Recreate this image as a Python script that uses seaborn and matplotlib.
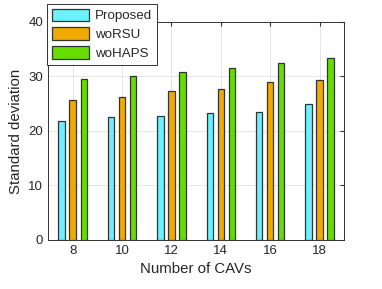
import numpy as np
import pandas as pd
import matplotlib
matplotlib.use("Agg")
import matplotlib.pyplot as plt
import seaborn as sns

# values
num_cavs = [8, 10, 12, 14, 16, 18]
proposed = [21.9, 22.5, 22.8, 23.3, 23.5, 25.0]
wo_rsu = [25.7, 26.3, 27.4, 27.7, 28.9, 29.4]
wo_haps = [29.6, 30.1, 30.9, 31.6, 32.5, 33.4]
methods = ["Proposed", "woRSU", "woHAPS"]
colors = ["#6af0ff", "#f0aa00", "#66dd00"]

df = pd.DataFrame({
    "cavs": num_cavs * 3,
    "method": np.repeat(methods, len(num_cavs)),
    "std": proposed + wo_rsu + wo_haps,
})

sns.set_style("white")
plt.rcParams["font.family"] = ["Liberation Sans", "DejaVu Sans"]

fig = plt.figure(figsize=(3.82, 2.89), dpi=100)
ax = fig.add_axes([0.126, 0.170, 0.775, 0.754])

sns.barplot(data=df, x="cavs", y="std", hue="method", palette=colors,
            saturation=1, width=0.67, gap=0.4, edgecolor="#333333",
            linewidth=0.9, errorbar=None, ax=ax)

ax.set_xlim(-0.5, 5.5)
ax.set_ylim(0, 40)
ax.set_yticks([0, 10, 20, 30, 40])
ax.set_xlabel("Number of CAVs", fontsize=10.8, color="#262626")
ax.set_ylabel("Standard deviation", fontsize=10.8, color="#262626")
ax.tick_params(direction="in", labelsize=9.5, top=True, right=True,
               length=3, color="#333333", labelcolor="#262626")
ax.grid(True, color="#e0e0e0", linewidth=0.6)
ax.set_axisbelow(True)
for s in ax.spines.values():
    s.set_color("#333333")
    s.set_linewidth(0.7)

leg = ax.legend(loc="upper left", bbox_to_anchor=(-0.003, 1.083),
                borderaxespad=0, fontsize=9.6, handlelength=2.8,
                handleheight=1.05, borderpad=0.35, labelspacing=0.38,
                handletextpad=0.45, fancybox=False, framealpha=1,
                edgecolor="#333333")
leg.get_frame().set_linewidth(0.7)

plt.savefig("out.png", dpi=100)
plt.close()
